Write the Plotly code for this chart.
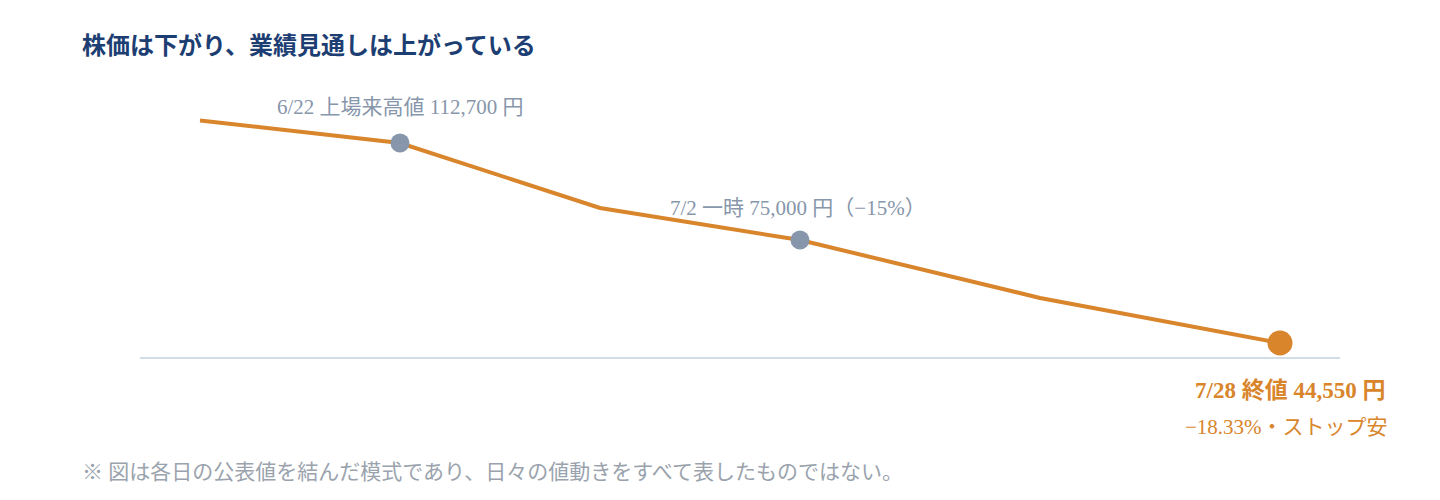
import plotly.graph_objects as go

x_pos = [0, 1, 2, 3, 4.2, 5.4]
prices = [120400, 112700, 90550, 79650, 59890, 44550]
title = "株価は下がり、業績見通しは上がっている"
label_high = "6/22 上場来高値 112,700 円"
label_mid = "7/2 一時 75,000 円（−15%）"
label_end1 = "7/28 終値 44,550 円"
label_end2 = "−18.33%・ストップ安"
note = "※ 図は各日の公表値を結んだ模式であり、日々の値動きをすべて表したものではない。"

FONT = "Liberation Serif, Noto Sans CJK JP, serif"
ORANGE = "#d8852c"
GRAY = "#8796aa"
OFF = 8

fig = go.Figure()
fig.add_trace(go.Scatter(x=x_pos, y=prices, mode="lines",
                         line=dict(color=ORANGE, width=4), hoverinfo="skip"))
fig.add_trace(go.Scatter(x=[x_pos[1], x_pos[3]], y=[prices[1], prices[3]], mode="markers",
                         marker=dict(color=GRAY, size=19), hoverinfo="skip"))
fig.add_trace(go.Scatter(x=[x_pos[5]], y=[prices[5]], mode="markers",
                         marker=dict(color=ORANGE, size=25), hoverinfo="skip"))

def px(xp): return (xp - 140) / 1200
def py(yp): return (358 - yp) / 258

anns = [
    dict(text=f"<b>{title}</b>", x=px(80), y=py(45), xanchor="left", font=dict(size=24, color="#1d3e72")),
    dict(text=label_high, x=px(400), y=py(107), xanchor="center", font=dict(size=21, color=GRAY)),
    dict(text=label_mid, x=px(798), y=py(208), xanchor="center", font=dict(size=21, color=GRAY)),
    dict(text=f"<b>{label_end1}</b>", x=px(1387), y=py(390), xanchor="right", font=dict(size=23, color=ORANGE)),
    dict(text=label_end2, x=px(1390), y=py(427), xanchor="right", font=dict(size=21, color=ORANGE)),
    dict(text=note, x=px(80), y=py(472), xanchor="left", font=dict(size=21, color="#9aa3ad")),
]
for a in anns:
    a.update(xref="paper", yref="paper", yanchor="middle", showarrow=False)
    a["font"]["family"] = FONT

fig.update_layout(
    width=1440, height=500, showlegend=False,
    paper_bgcolor="white", plot_bgcolor="white",
    margin=dict(l=140 - OFF, r=100 + OFF, t=100 - OFF, b=142 + OFF),
    xaxis=dict(range=[-0.3, 5.7], visible=False),
    yaxis=dict(range=[39439, 127352], visible=False),
    annotations=anns,
    shapes=[dict(type="line", xref="paper", yref="paper", x0=0, x1=1, y0=0, y1=0,
                 line=dict(color="#d3dde6", width=2), layer="below")],
)
fig.write_html("out.html")
